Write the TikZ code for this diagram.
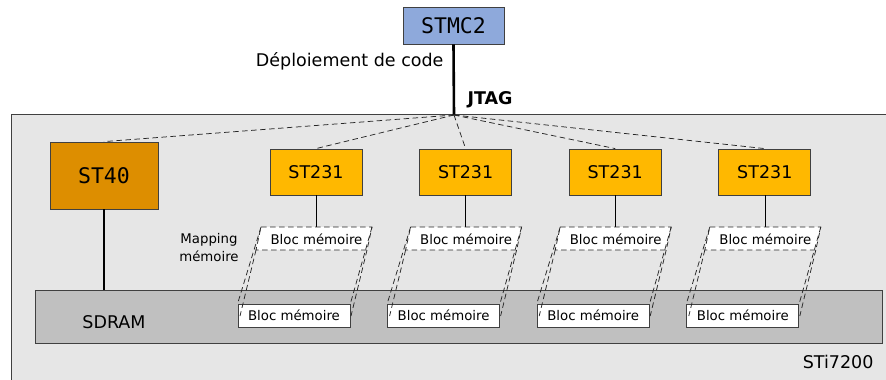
\documentclass[tikz,border=0pt]{standalone}
\usepackage{fontspec}
\setmainfont{DejaVu Sans}
\setmonofont{DejaVu Sans Mono}
\definecolor{hostblue}{HTML}{8EA9DB}
\definecolor{stforty}{HTML}{DD8E00}
\definecolor{sttwo}{HTML}{FFB800}
\definecolor{chipgrey}{HTML}{E6E6E6}
\definecolor{ramgrey}{HTML}{C0C0C0}
\begin{document}
\begin{tikzpicture}[x=1pt,y=-1pt,
    box/.style={draw=black!75,line width=0.8pt,inner sep=0pt},
    big/.style={font=\fontsize{17.5}{20}\selectfont},
    small/.style={font=\fontsize{13.3}{18}\selectfont},
    mono/.style={font=\ttfamily\fontsize{21.5}{24}\selectfont},
    bus/.style={line width=2.6pt},
    link/.style={dashed,dash pattern=on 5.5pt off 3.5pt,line width=0.75pt,draw=black!85}]
    \useasboundingbox (0,0) rectangle (886,380);
    % the chip and its memory
    \node[box,fill=chipgrey,minimum width=890pt,minimum height=280pt,anchor=north west] (chip) at (11,114) {};
    \node[big,anchor=east] (chipname) at (877,362) {STi7200};
    \node[box,fill=ramgrey,minimum width=847pt,minimum height=53pt,anchor=north west] (sdram) at (35,290) {};
    \node[big] (ramname) at (114,322) {SDRAM};
    % host
    \node[box,fill=hostblue,mono,minimum width=101pt,minimum height=37pt] (stmc) at (453.5,25.5) {STMC2};
    \coordinate (jtag) at (454,115);
    \draw[bus] (stmc.south) -- (jtag);
    \node[big,anchor=east] (deploy) at (447,61) {Déploiement de code};
    \node[big,font=\bfseries\fontsize{17.5}{20}\selectfont,anchor=west] (jtagname) at (464,100) {JTAG};
    % main core
    \node[box,fill=stforty,mono,minimum width=108pt,minimum height=67pt] (st40) at (104,175.5) {ST40};
    \draw[bus] (st40.south) -- (st40.south |- sdram.north);
    \draw[link] (jtag) -- (st40.north);
    \node[small,align=center] (mapping) at (209,248) {Mapping\\mémoire};
    % coprocessors
    \foreach \i in {0,...,3}{
        \pgfmathsetmacro{\cx}{316+149.6*\i}
        \node[box,fill=sttwo,big,minimum width=92pt,minimum height=46pt] (st\i) at (\cx,172) {ST231};
        \draw[link] (jtag) -- (st\i.north);
        \coordinate (utc\i) at (\cx,227);
        \coordinate (utl\i) at (\cx-55,227);
        \coordinate (utr\i) at (\cx+56,227);
        \coordinate (ubr\i) at (\cx+51,250);
        \coordinate (ubl\i) at (\cx-60,250);
        \draw (st\i.south) -- (utc\i);
        \draw[link,fill=white] (utl\i) -- (utr\i) -- (ubr\i) -- (ubl\i) -- cycle;
        \node[small] (up\i) at (\cx+0.5,239) {Bloc mémoire};
        \node[box,fill=white,small,minimum width=112pt,minimum height=23pt] (low\i) at (\cx-22,315.5) {Bloc mémoire};
        \coordinate (lbl\i) at (\cx-76,316);
        \coordinate (lbr\i) at (\cx+35,316);
        \draw[link] (utl\i) -- (low\i.north west);
        \draw[link] (ubl\i) -- (lbl\i);
        \draw[link] (utr\i) -- (low\i.north east);
        \draw[link] (ubr\i) -- (lbr\i);
    }
\end{tikzpicture}
\end{document}
